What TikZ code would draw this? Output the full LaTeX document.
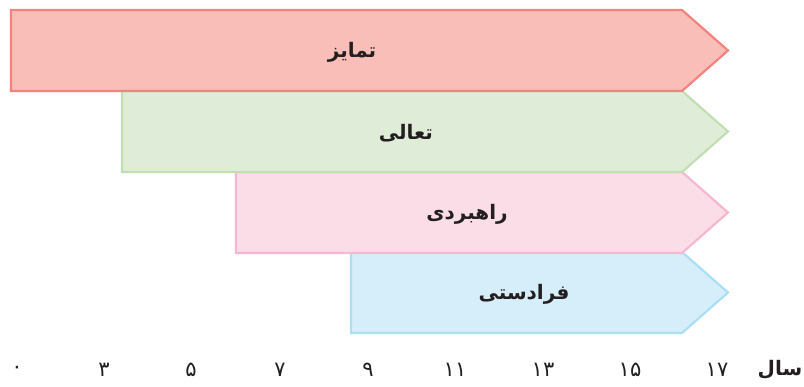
\documentclass[tikz,border=0pt]{standalone}
\usepackage{fontspec}
\newfontfamily\arabicfont[Script=Arabic]{DejaVu Sans}
\TeXXeTstate=1
\definecolor{f1}{HTML}{F8BEB7}\definecolor{s1}{HTML}{F4837D}
\definecolor{f2}{HTML}{DFEDD8}\definecolor{s2}{HTML}{C1DFB3}
\definecolor{f3}{HTML}{FBDDE8}\definecolor{s3}{HTML}{F5B8D0}
\definecolor{f4}{HTML}{D6EEF9}\definecolor{s4}{HTML}{AADFF5}
\definecolor{txt}{HTML}{231F20}
\tikzset{
  band/.style={line width=2.2pt, line join=miter},
  lbl/.style={font=\arabicfont\bfseries\fontsize{20}{24}\selectfont, text=txt, inner sep=0pt},
  tick/.style={font=\arabicfont\fontsize{21}{24}\selectfont, text=txt, inner sep=0pt}
}
\begin{document}
\begin{tikzpicture}[x=1pt,y=-1pt]
\useasboundingbox (0,0) rectangle (804,387);
% bands
\draw[band, fill=f4, draw=s4] (351,252) -- (682,252) -- (728,292.5) -- (682,333) -- (351,333) -- cycle;
\draw[band, fill=f3, draw=s3] (236,172) -- (682,172) -- (728,212.5) -- (682,253) -- (236,253) -- cycle;
\draw[band, fill=f2, draw=s2] (122,91) -- (682,91) -- (728,131.5) -- (682,172) -- (122,172) -- cycle;
\draw[band, fill=f1, draw=s1] (11,10) -- (682,10) -- (728,50.5) -- (682,91) -- (11,91) -- cycle;
% labels
\node[lbl] (l1) at (352,52) {\beginR تمایز\endR};
\node[lbl] (l2) at (406,133) {\beginR تعالی\endR};
\node[lbl] (l3) at (467,214) {\beginR راهبردی\endR};
\node[lbl] (l4) at (524,294) {\beginR فرادستی\endR};
% axis
\node[tick] (t0) at (17,370) {۰};
\node[tick] (t3) at (104,370) {۳};
\node[tick] (t5) at (191,370) {۵};
\node[tick] (t7) at (280,370) {۷};
\node[tick] (t9) at (368,370) {۹};
\node[tick] (t11) at (455,370) {۱۱};
\node[tick] (t13) at (543,370) {۱۳};
\node[tick] (t15) at (630,370) {۱۵};
\node[tick] (t17) at (717,370) {۱۷};
\node[lbl] (sal) at (780,370) {\beginR سال\endR};
\end{tikzpicture}
\end{document}
